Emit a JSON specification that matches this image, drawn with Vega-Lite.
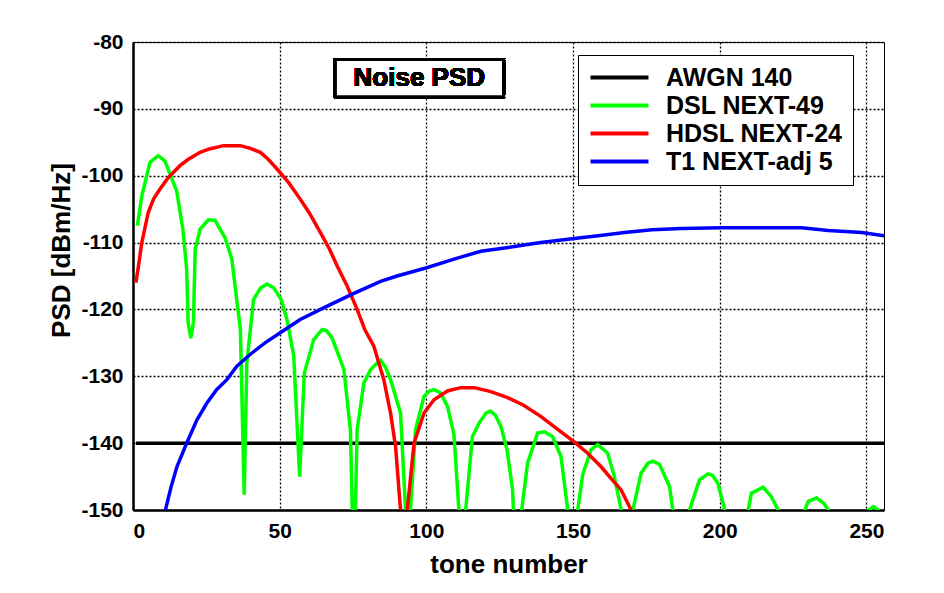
{
  "$schema": "https://vega.github.io/schema/vega-lite/v6.json",
  "autosize": "none",
  "width": 751,
  "height": 468,
  "padding": {"left": 133, "top": 42, "right": 60, "bottom": 83},
  "background": "white",
  "config": {
    "font": "Liberation Sans",
    "view": {"stroke": "black", "strokeWidth": 1},
    "axis": {
      "labelFont": "Liberation Sans", "labelFontWeight": "bold", "labelFontSize": 21, "labelColor": "black",
      "titleFont": "Liberation Sans", "titleFontWeight": "bold", "titleFontSize": 26, "titleColor": "black",
      "domainColor": "black", "domainWidth": 2.5,
      "grid": true, "gridColor": "black", "gridOpacity": 1, "gridWidth": 1.3, "gridDash": [2, 2],
      "ticks": false, "labelPadding": 10
    },
    "legend": {
      "orient": "none", "legendX": 445, "legendY": 13, "direction": "vertical",
      "strokeColor": "black", "fillColor": "white", "padding": 10,
      "symbolType": "M-2.76,0H2.76", "symbolSize": 441, "symbolStrokeWidth": 4, "symbolOffset": 19,
      "labelFont": "Liberation Sans", "labelFontWeight": "bold", "labelFontSize": 25, "labelColor": "black",
      "labelOffset": 34, "rowPadding": 2, "labelLimit": 400
    }
  },
  "data": {"values": [
    {"series": "AWGN 140", "tone": 1, "psd": -140},
    {"series": "AWGN 140", "tone": 256, "psd": -140},

    {"series": "DSL NEXT-49", "tone": 1.5, "psd": -107.5},
    {"series": "DSL NEXT-49", "tone": 3, "psd": -103},
    {"series": "DSL NEXT-49", "tone": 5.8, "psd": -98},
    {"series": "DSL NEXT-49", "tone": 8.6, "psd": -97},
    {"series": "DSL NEXT-49", "tone": 10.9, "psd": -97.8},
    {"series": "DSL NEXT-49", "tone": 14.9, "psd": -102.3},
    {"series": "DSL NEXT-49", "tone": 17, "psd": -108},
    {"series": "DSL NEXT-49", "tone": 18.3, "psd": -114},
    {"series": "DSL NEXT-49", "tone": 18.8, "psd": -122},
    {"series": "DSL NEXT-49", "tone": 19.7, "psd": -124.3},
    {"series": "DSL NEXT-49", "tone": 20.6, "psd": -122},
    {"series": "DSL NEXT-49", "tone": 21.2, "psd": -111},
    {"series": "DSL NEXT-49", "tone": 22.9, "psd": -108},
    {"series": "DSL NEXT-49", "tone": 25.7, "psd": -106.6},
    {"series": "DSL NEXT-49", "tone": 28, "psd": -106.7},
    {"series": "DSL NEXT-49", "tone": 31.4, "psd": -109.3},
    {"series": "DSL NEXT-49", "tone": 33.7, "psd": -112.5},
    {"series": "DSL NEXT-49", "tone": 34.8, "psd": -116.5},
    {"series": "DSL NEXT-49", "tone": 36.6, "psd": -123},
    {"series": "DSL NEXT-49", "tone": 37.9, "psd": -147.7},
    {"series": "DSL NEXT-49", "tone": 38.8, "psd": -128},
    {"series": "DSL NEXT-49", "tone": 41.1, "psd": -118.5},
    {"series": "DSL NEXT-49", "tone": 43.5, "psd": -116.8},
    {"series": "DSL NEXT-49", "tone": 45.7, "psd": -116.2},
    {"series": "DSL NEXT-49", "tone": 48, "psd": -116.8},
    {"series": "DSL NEXT-49", "tone": 50.5, "psd": -118.5},
    {"series": "DSL NEXT-49", "tone": 52.5, "psd": -121.5},
    {"series": "DSL NEXT-49", "tone": 54.8, "psd": -127},
    {"series": "DSL NEXT-49", "tone": 56.8, "psd": -145},
    {"series": "DSL NEXT-49", "tone": 58.4, "psd": -129.5},
    {"series": "DSL NEXT-49", "tone": 61.6, "psd": -124.5},
    {"series": "DSL NEXT-49", "tone": 64.5, "psd": -123},
    {"series": "DSL NEXT-49", "tone": 66, "psd": -123.2},
    {"series": "DSL NEXT-49", "tone": 67.9, "psd": -124.3},
    {"series": "DSL NEXT-49", "tone": 71.9, "psd": -129},
    {"series": "DSL NEXT-49", "tone": 74.1, "psd": -138},
    {"series": "DSL NEXT-49", "tone": 75.3, "psd": -160},
    {"series": "DSL NEXT-49", "tone": 76.4, "psd": -138},
    {"series": "DSL NEXT-49", "tone": 78.7, "psd": -131},
    {"series": "DSL NEXT-49", "tone": 81, "psd": -129},
    {"series": "DSL NEXT-49", "tone": 83.3, "psd": -128},
    {"series": "DSL NEXT-49", "tone": 84.4, "psd": -127.6},
    {"series": "DSL NEXT-49", "tone": 86, "psd": -128.6},
    {"series": "DSL NEXT-49", "tone": 87.8, "psd": -130.5},
    {"series": "DSL NEXT-49", "tone": 91.2, "psd": -135.5},
    {"series": "DSL NEXT-49", "tone": 92.9, "psd": -150},
    {"series": "DSL NEXT-49", "tone": 93.7, "psd": -160},
    {"series": "DSL NEXT-49", "tone": 94.6, "psd": -150},
    {"series": "DSL NEXT-49", "tone": 96.3, "psd": -138},
    {"series": "DSL NEXT-49", "tone": 99.2, "psd": -133},
    {"series": "DSL NEXT-49", "tone": 101, "psd": -132.2},
    {"series": "DSL NEXT-49", "tone": 102.6, "psd": -132},
    {"series": "DSL NEXT-49", "tone": 104.9, "psd": -132.5},
    {"series": "DSL NEXT-49", "tone": 107.2, "psd": -134.5},
    {"series": "DSL NEXT-49", "tone": 109.4, "psd": -138.7},
    {"series": "DSL NEXT-49", "tone": 111.1, "psd": -150},
    {"series": "DSL NEXT-49", "tone": 112.2, "psd": -162},
    {"series": "DSL NEXT-49", "tone": 113.4, "psd": -150},
    {"series": "DSL NEXT-49", "tone": 115.7, "psd": -139},
    {"series": "DSL NEXT-49", "tone": 118, "psd": -137},
    {"series": "DSL NEXT-49", "tone": 120.3, "psd": -135.5},
    {"series": "DSL NEXT-49", "tone": 121.8, "psd": -135.2},
    {"series": "DSL NEXT-49", "tone": 123.5, "psd": -135.8},
    {"series": "DSL NEXT-49", "tone": 125.4, "psd": -137.5},
    {"series": "DSL NEXT-49", "tone": 127.5, "psd": -141},
    {"series": "DSL NEXT-49", "tone": 129.4, "psd": -147},
    {"series": "DSL NEXT-49", "tone": 131, "psd": -165},
    {"series": "DSL NEXT-49", "tone": 132.5, "psd": -150},
    {"series": "DSL NEXT-49", "tone": 134.5, "psd": -143},
    {"series": "DSL NEXT-49", "tone": 137.9, "psd": -138.5},
    {"series": "DSL NEXT-49", "tone": 140.2, "psd": -138.3},
    {"series": "DSL NEXT-49", "tone": 143, "psd": -139},
    {"series": "DSL NEXT-49", "tone": 145.9, "psd": -142},
    {"series": "DSL NEXT-49", "tone": 148.2, "psd": -150},
    {"series": "DSL NEXT-49", "tone": 150, "psd": -168},
    {"series": "DSL NEXT-49", "tone": 151.6, "psd": -150},
    {"series": "DSL NEXT-49", "tone": 153.3, "psd": -144.7},
    {"series": "DSL NEXT-49", "tone": 156.1, "psd": -141},
    {"series": "DSL NEXT-49", "tone": 158.4, "psd": -140.2},
    {"series": "DSL NEXT-49", "tone": 161.8, "psd": -141.5},
    {"series": "DSL NEXT-49", "tone": 164.1, "psd": -145},
    {"series": "DSL NEXT-49", "tone": 166.4, "psd": -150},
    {"series": "DSL NEXT-49", "tone": 168.4, "psd": -170},
    {"series": "DSL NEXT-49", "tone": 170.4, "psd": -150},
    {"series": "DSL NEXT-49", "tone": 173.2, "psd": -144.5},
    {"series": "DSL NEXT-49", "tone": 175.5, "psd": -143},
    {"series": "DSL NEXT-49", "tone": 177.2, "psd": -142.7},
    {"series": "DSL NEXT-49", "tone": 179.5, "psd": -143.2},
    {"series": "DSL NEXT-49", "tone": 182.9, "psd": -146.5},
    {"series": "DSL NEXT-49", "tone": 184, "psd": -150},
    {"series": "DSL NEXT-49", "tone": 187, "psd": -172},
    {"series": "DSL NEXT-49", "tone": 189.7, "psd": -150},
    {"series": "DSL NEXT-49", "tone": 193.1, "psd": -145.5},
    {"series": "DSL NEXT-49", "tone": 196, "psd": -144.6},
    {"series": "DSL NEXT-49", "tone": 197.5, "psd": -144.8},
    {"series": "DSL NEXT-49", "tone": 199.4, "psd": -146},
    {"series": "DSL NEXT-49", "tone": 201.7, "psd": -150},
    {"series": "DSL NEXT-49", "tone": 205.5, "psd": -175},
    {"series": "DSL NEXT-49", "tone": 209.7, "psd": -150},
    {"series": "DSL NEXT-49", "tone": 210.8, "psd": -147.5},
    {"series": "DSL NEXT-49", "tone": 214.8, "psd": -146.6},
    {"series": "DSL NEXT-49", "tone": 217.6, "psd": -148},
    {"series": "DSL NEXT-49", "tone": 219.9, "psd": -150},
    {"series": "DSL NEXT-49", "tone": 224.5, "psd": -178},
    {"series": "DSL NEXT-49", "tone": 229, "psd": -150},
    {"series": "DSL NEXT-49", "tone": 230.2, "psd": -148.7},
    {"series": "DSL NEXT-49", "tone": 233, "psd": -148.2},
    {"series": "DSL NEXT-49", "tone": 235.5, "psd": -149},
    {"series": "DSL NEXT-49", "tone": 237, "psd": -150},
    {"series": "DSL NEXT-49", "tone": 243, "psd": -180},
    {"series": "DSL NEXT-49", "tone": 250.7, "psd": -150},
    {"series": "DSL NEXT-49", "tone": 252.4, "psd": -149.5},
    {"series": "DSL NEXT-49", "tone": 254, "psd": -150},
    {"series": "DSL NEXT-49", "tone": 256, "psd": -160},

    {"series": "HDSL NEXT-24", "tone": 1, "psd": -116},
    {"series": "HDSL NEXT-24", "tone": 1.8, "psd": -113.7},
    {"series": "HDSL NEXT-24", "tone": 3, "psd": -110},
    {"series": "HDSL NEXT-24", "tone": 5.2, "psd": -105.5},
    {"series": "HDSL NEXT-24", "tone": 7, "psd": -103.5},
    {"series": "HDSL NEXT-24", "tone": 9.2, "psd": -102},
    {"series": "HDSL NEXT-24", "tone": 12, "psd": -100.3},
    {"series": "HDSL NEXT-24", "tone": 16, "psd": -98.5},
    {"series": "HDSL NEXT-24", "tone": 19, "psd": -97.5},
    {"series": "HDSL NEXT-24", "tone": 22.9, "psd": -96.5},
    {"series": "HDSL NEXT-24", "tone": 26, "psd": -96},
    {"series": "HDSL NEXT-24", "tone": 30.9, "psd": -95.5},
    {"series": "HDSL NEXT-24", "tone": 36.6, "psd": -95.5},
    {"series": "HDSL NEXT-24", "tone": 40, "psd": -95.9},
    {"series": "HDSL NEXT-24", "tone": 43.4, "psd": -96.5},
    {"series": "HDSL NEXT-24", "tone": 46, "psd": -97.5},
    {"series": "HDSL NEXT-24", "tone": 49.1, "psd": -99},
    {"series": "HDSL NEXT-24", "tone": 53, "psd": -101},
    {"series": "HDSL NEXT-24", "tone": 57, "psd": -103.5},
    {"series": "HDSL NEXT-24", "tone": 60, "psd": -105.5},
    {"series": "HDSL NEXT-24", "tone": 63.9, "psd": -108.5},
    {"series": "HDSL NEXT-24", "tone": 67, "psd": -111},
    {"series": "HDSL NEXT-24", "tone": 69.6, "psd": -113.5},
    {"series": "HDSL NEXT-24", "tone": 73, "psd": -116.5},
    {"series": "HDSL NEXT-24", "tone": 76.4, "psd": -120},
    {"series": "HDSL NEXT-24", "tone": 79, "psd": -123},
    {"series": "HDSL NEXT-24", "tone": 82.1, "psd": -125.5},
    {"series": "HDSL NEXT-24", "tone": 85.5, "psd": -130.5},
    {"series": "HDSL NEXT-24", "tone": 87.8, "psd": -135.5},
    {"series": "HDSL NEXT-24", "tone": 89.5, "psd": -140.5},
    {"series": "HDSL NEXT-24", "tone": 91.2, "psd": -150},
    {"series": "HDSL NEXT-24", "tone": 92.3, "psd": -160},
    {"series": "HDSL NEXT-24", "tone": 93.5, "psd": -150},
    {"series": "HDSL NEXT-24", "tone": 95.8, "psd": -140},
    {"series": "HDSL NEXT-24", "tone": 99.2, "psd": -135.5},
    {"series": "HDSL NEXT-24", "tone": 102.6, "psd": -133.5},
    {"series": "HDSL NEXT-24", "tone": 107.2, "psd": -132.2},
    {"series": "HDSL NEXT-24", "tone": 111.7, "psd": -131.7},
    {"series": "HDSL NEXT-24", "tone": 116.3, "psd": -131.7},
    {"series": "HDSL NEXT-24", "tone": 122, "psd": -132.3},
    {"series": "HDSL NEXT-24", "tone": 127.7, "psd": -133.2},
    {"series": "HDSL NEXT-24", "tone": 133, "psd": -134.3},
    {"series": "HDSL NEXT-24", "tone": 139, "psd": -136},
    {"series": "HDSL NEXT-24", "tone": 145, "psd": -138},
    {"series": "HDSL NEXT-24", "tone": 150.4, "psd": -139.8},
    {"series": "HDSL NEXT-24", "tone": 155, "psd": -141.5},
    {"series": "HDSL NEXT-24", "tone": 159.5, "psd": -143.5},
    {"series": "HDSL NEXT-24", "tone": 163, "psd": -145.3},
    {"series": "HDSL NEXT-24", "tone": 166.4, "psd": -147},
    {"series": "HDSL NEXT-24", "tone": 169.8, "psd": -150},
    {"series": "HDSL NEXT-24", "tone": 172, "psd": -152},

    {"series": "T1 NEXT-adj 5", "tone": 10.5, "psd": -151},
    {"series": "T1 NEXT-adj 5", "tone": 13, "psd": -146.5},
    {"series": "T1 NEXT-adj 5", "tone": 15, "psd": -143.5},
    {"series": "T1 NEXT-adj 5", "tone": 18.3, "psd": -140},
    {"series": "T1 NEXT-adj 5", "tone": 21.8, "psd": -136.5},
    {"series": "T1 NEXT-adj 5", "tone": 25.2, "psd": -134},
    {"series": "T1 NEXT-adj 5", "tone": 28.5, "psd": -132},
    {"series": "T1 NEXT-adj 5", "tone": 32, "psd": -130.5},
    {"series": "T1 NEXT-adj 5", "tone": 35.4, "psd": -128.5},
    {"series": "T1 NEXT-adj 5", "tone": 40, "psd": -126.7},
    {"series": "T1 NEXT-adj 5", "tone": 45, "psd": -125},
    {"series": "T1 NEXT-adj 5", "tone": 50.2, "psd": -123.5},
    {"series": "T1 NEXT-adj 5", "tone": 57, "psd": -121.5},
    {"series": "T1 NEXT-adj 5", "tone": 66.2, "psd": -119.5},
    {"series": "T1 NEXT-adj 5", "tone": 75.3, "psd": -117.6},
    {"series": "T1 NEXT-adj 5", "tone": 84.4, "psd": -115.8},
    {"series": "T1 NEXT-adj 5", "tone": 90, "psd": -115},
    {"series": "T1 NEXT-adj 5", "tone": 99.8, "psd": -113.8},
    {"series": "T1 NEXT-adj 5", "tone": 110, "psd": -112.4},
    {"series": "T1 NEXT-adj 5", "tone": 118.6, "psd": -111.3},
    {"series": "T1 NEXT-adj 5", "tone": 130, "psd": -110.6},
    {"series": "T1 NEXT-adj 5", "tone": 139, "psd": -110},
    {"series": "T1 NEXT-adj 5", "tone": 150.4, "psd": -109.4},
    {"series": "T1 NEXT-adj 5", "tone": 160, "psd": -108.9},
    {"series": "T1 NEXT-adj 5", "tone": 167.5, "psd": -108.5},
    {"series": "T1 NEXT-adj 5", "tone": 177, "psd": -108.1},
    {"series": "T1 NEXT-adj 5", "tone": 186.9, "psd": -107.9},
    {"series": "T1 NEXT-adj 5", "tone": 200.6, "psd": -107.8},
    {"series": "T1 NEXT-adj 5", "tone": 215, "psd": -107.8},
    {"series": "T1 NEXT-adj 5", "tone": 227.9, "psd": -107.8},
    {"series": "T1 NEXT-adj 5", "tone": 237, "psd": -108.2},
    {"series": "T1 NEXT-adj 5", "tone": 248.4, "psd": -108.5},
    {"series": "T1 NEXT-adj 5", "tone": 256, "psd": -109}
  ]},
  "encoding": {
    "x": {"field": "tone", "type": "quantitative",
      "scale": {"domain": [0, 256], "nice": false, "zero": false},
      "axis": {"title": "tone number", "values": [0, 50, 100, 150, 200, 250], "titlePadding": 10}},
    "y": {"field": "psd", "type": "quantitative",
      "scale": {"domain": [-150, -80], "nice": false, "zero": false},
      "axis": {"title": "PSD [dBm/Hz]", "values": [-150, -140, -130, -120, -110, -100, -90, -80],
        "labelExpr": "'' + datum.value", "titlePadding": 6, "titleY": 208}}
  },
  "layer": [
    {
      "mark": {"type": "line", "strokeWidth": 3.5, "clip": true},
      "encoding": {
        "color": {"field": "series", "type": "nominal",
          "scale": {"domain": ["AWGN 140", "DSL NEXT-49", "HDSL NEXT-24", "T1 NEXT-adj 5"],
            "range": ["#000000", "#00ff00", "#ff0000", "#0000ff"]},
          "legend": {"title": null}}
      }
    },
    {
      "mark": {"type": "rect", "fill": "white", "stroke": "black", "strokeWidth": 3},
      "encoding": {
        "x": {"datum": 69}, "x2": {"datum": 126.3},
        "y": {"datum": -82.6}, "y2": {"datum": -88.2}
      }
    },
    {
      "mark": {"type": "text", "text": "Noise PSD", "font": "Liberation Sans", "fontWeight": "bold",
        "fontSize": 26, "align": "center", "baseline": "middle", "fill": "black", "strokeWidth": 0},
      "encoding": {
        "x": {"datum": 97.6}, "y": {"datum": -85.4}
      }
    }
  ]
}
